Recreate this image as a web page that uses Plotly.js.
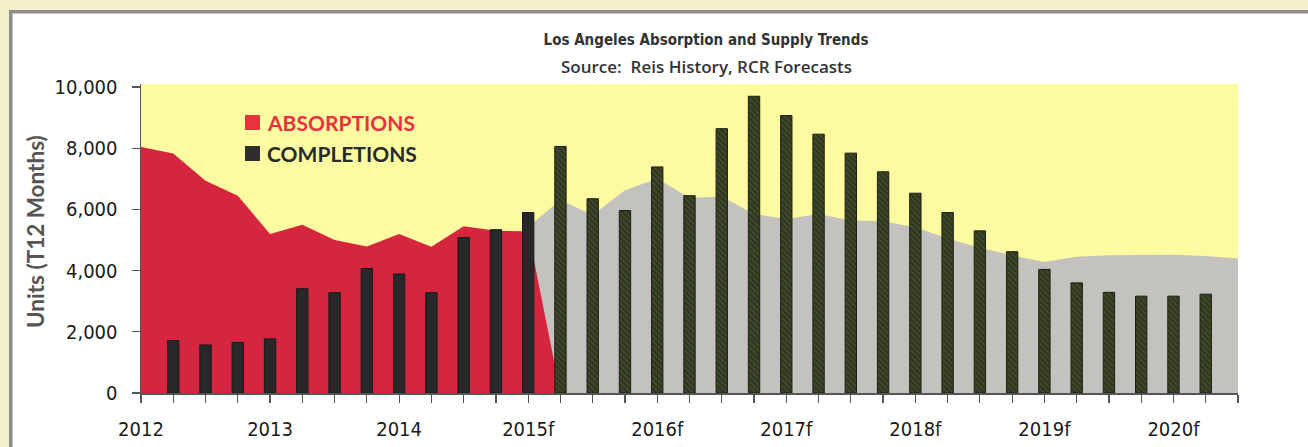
<!DOCTYPE html>
<html>
<head>
<meta charset="utf-8">
<script src="https://cdn.plot.ly/plotly-3.0.1.min.js"></script>
<style>html,body{margin:0;padding:0;background:#fff;}#chart{width:1308px;height:447px;}</style>
</head>
<body>
<div id="chart"></div>
<script>
// ---- data ----
const chartTitle = "Los Angeles Absorption and Supply Trends";
const chartSource = "Source:  Reis History, RCR Forecasts";
const yAxisTitle = "Units (T12 Months)";
const seriesNames = ["ABSORPTIONS", "COMPLETIONS"];

// quarter positions (years)
const absorptionHistX = [2012, 2012.25, 2012.5, 2012.75, 2013, 2013.25, 2013.5, 2013.75, 2014, 2014.25, 2014.5, 2014.75, 2015, 2015.25];
const absorptionHistY = [8040, 7830, 6940, 6450, 5200, 5500, 5000, 4790, 5200, 4780, 5450, 5300, 5290, 0];

const absorptionFcstX = [2015, 2015.25, 2015.5, 2015.75, 2016, 2016.25, 2016.5, 2016.75, 2017, 2017.25, 2017.5, 2017.75, 2018, 2018.25, 2018.5, 2018.75, 2019, 2019.25, 2019.5, 2019.75, 2020, 2020.25, 2020.5];
const absorptionFcstY = [5430, 6310, 5820, 6630, 7010, 6380, 6420, 5850, 5690, 5850, 5640, 5610, 5420, 5050, 4750, 4500, 4280, 4450, 4500, 4520, 4520, 4480, 4400];

const completionsX = [2012.25, 2012.5, 2012.75, 2013, 2013.25, 2013.5, 2013.75, 2014, 2014.25, 2014.5, 2014.75, 2015,
  2015.25, 2015.5, 2015.75, 2016, 2016.25, 2016.5, 2016.75, 2017, 2017.25, 2017.5, 2017.75, 2018,
  2018.25, 2018.5, 2018.75, 2019, 2019.25, 2019.5, 2019.75, 2020, 2020.25];
const completionsY = [1710, 1570, 1650, 1770, 3410, 3280, 4070, 3890, 3280, 5080, 5340, 5900,
  8060, 6350, 5965, 7390, 6450, 8640, 9700, 9070, 8460, 7840, 7230, 6530,
  5900, 5300, 4620, 4040, 3600, 3290, 3165, 3165, 3230];
const forecastStart = 2015.25;

const tickYears = [2012, 2013, 2014, 2015, 2016, 2017, 2018, 2019, 2020];
const tickYearLabels = ["2012", "2013", "2014", "2015f", "2016f", "2017f", "2018f", "2019f", "2020f"];
const xRange = [2012, 2020.5];
const yRange = [0, 10100];
const yTicks = [0, 2000, 4000, 6000, 8000, 10000];

// ---- build ----
const quarterTicks = [];
const quarterText = [];
for (let q = xRange[0]; q <= xRange[1] + 1e-9; q += 0.25) {
  quarterTicks.push(q);
  const idx = tickYears.indexOf(q);
  quarterText.push(idx >= 0 ? tickYearLabels[idx] : "");
}

const histBarsX = [], histBarsY = [], fcBarsX = [], fcBarsY = [];
completionsX.forEach((x, i) => {
  if (x < forecastStart) { histBarsX.push(x); histBarsY.push(completionsY[i]); }
  else { fcBarsX.push(x); fcBarsY.push(completionsY[i]); }
});

const RED = "#d6253f", GRAY = "#c4c2bf";
const NARROW = "DejaVu Sans Condensed, Roboto, sans-serif";

const traces = [
  { type: "scatter", mode: "lines", x: absorptionFcstX, y: absorptionFcstY, fill: "tozeroy",
    fillcolor: GRAY, line: { width: 0, color: GRAY }, hoverinfo: "skip", showlegend: false },
  { type: "scatter", mode: "lines", x: absorptionHistX, y: absorptionHistY, fill: "tozeroy",
    fillcolor: RED, line: { width: 0, color: RED }, name: seriesNames[0], showlegend: false },
  { type: "bar", x: histBarsX, y: histBarsY, yaxis: "y2", width: 0.088, name: seriesNames[1],
    marker: { color: "#28282b", line: { color: "#1a1a1a", width: 1 } }, showlegend: false },
  { type: "bar", x: fcBarsX, y: fcBarsY, yaxis: "y2", width: 0.088, name: seriesNames[1] + " (f)",
    marker: { color: "#333b22", line: { color: "#1c2010", width: 1 },
      pattern: { shape: "\\", fgcolor: "#465031", bgcolor: "#30371f", size: 4, solidity: 0.3 } },
    showlegend: false }
];

// pixel helpers for layout positioning
const L = 141, R = 1238, T = 84, B = 393;
const px = v => (v - L) / (R - L);
const py = v => (B - v) / (B - T);

const layout = {
  width: 1308, height: 447,
  margin: { l: L, r: 1308 - R, t: T, b: 447 - B, pad: 0 },
  paper_bgcolor: "#ffffff",
  plot_bgcolor: "#fdfba2",
  showlegend: false,
  bargap: 0,
  title: { text: chartTitle, x: 706 / 1308, xanchor: "center", xref: "container",
    y: 1 - 40 / 447, yanchor: "middle", yref: "container",
    font: { family: NARROW, size: 15, color: "#333333", weight: "bold" } },
  xaxis: {
    range: xRange, tickmode: "array", tickvals: quarterTicks, ticktext: quarterText,
    ticks: "outside", ticklen: 8, tickwidth: 1.2, tickcolor: "#555",
    showline: true, linecolor: "#555", linewidth: 1.5, showgrid: false, zeroline: false,
    ticklabelstandoff: 9,
    tickfont: { family: NARROW, size: 20, color: "#1a1a1a" }
  },
  yaxis: {
    range: yRange, tickmode: "array", tickvals: yTicks, tickformat: ",d",
    ticks: "outside", ticklen: 8, tickwidth: 1.2, tickcolor: "#555",
    showline: true, linecolor: "#555", linewidth: 1.5, showgrid: false, zeroline: false,
    ticklabelstandoff: 10,
    tickfont: { family: NARROW, size: 20, color: "#1a1a1a" }
  },
  yaxis2: { overlaying: "y", matches: "y", visible: false },
  annotations: [
    { text: chartSource, xref: "paper", yref: "paper", x: px(706), y: py(66), xanchor: "center", yanchor: "middle",
      showarrow: false, font: { family: "Open Sans", size: 17, color: "#333333", weight: 600 } },
    { text: yAxisTitle, xref: "paper", yref: "paper", x: px(35), y: py(232), xanchor: "center", yanchor: "middle",
      textangle: -90, showarrow: false, font: { family: "Lato", size: 22.5, color: "#555555", weight: "bold" } },
    { text: seriesNames[0], xref: "paper", yref: "paper", x: px(265), y: py(122), xanchor: "left", yanchor: "middle",
      showarrow: false, font: { family: "Lato", size: 21, color: "#e8323e", weight: "bold" } },
    { text: seriesNames[1], xref: "paper", yref: "paper", x: px(265), y: py(153), xanchor: "left", yanchor: "middle",
      showarrow: false, font: { family: "Lato", size: 21, color: "#2a2a2a", weight: "bold" } }
  ],
  shapes: [
    // outer page tint and frame
    { type: "rect", xref: "paper", yref: "paper", x0: px(0), x1: px(9), y0: py(447), y1: py(0), fillcolor: "#f5f1cc", line: { width: 0 }, layer: "below" },
    { type: "rect", xref: "paper", yref: "paper", x0: px(0), x1: px(1308), y0: py(10), y1: py(0), fillcolor: "#f5f1cc", line: { width: 0 }, layer: "below" },
    { type: "rect", xref: "paper", yref: "paper", x0: px(9), x1: px(12.5), y0: py(447), y1: py(10), fillcolor: "#8c8c8c", line: { width: 0 } },
    { type: "rect", xref: "paper", yref: "paper", x0: px(9), x1: px(1308), y0: py(13.5), y1: py(10), fillcolor: "#8c8c8c", line: { width: 0 } },
    // legend swatches
    { type: "rect", xref: "paper", yref: "paper", x0: px(245), x1: px(260), y0: py(130), y1: py(115), fillcolor: "#e8323e", line: { width: 0 } },
    { type: "rect", xref: "paper", yref: "paper", x0: px(245), x1: px(260), y0: py(161), y1: py(146), fillcolor: "#2e2e2e", line: { width: 0 } }
  ]
};

Plotly.newPlot("chart", traces, layout, { staticPlot: true, displayModeBar: false });
</script>
</body>
</html>
